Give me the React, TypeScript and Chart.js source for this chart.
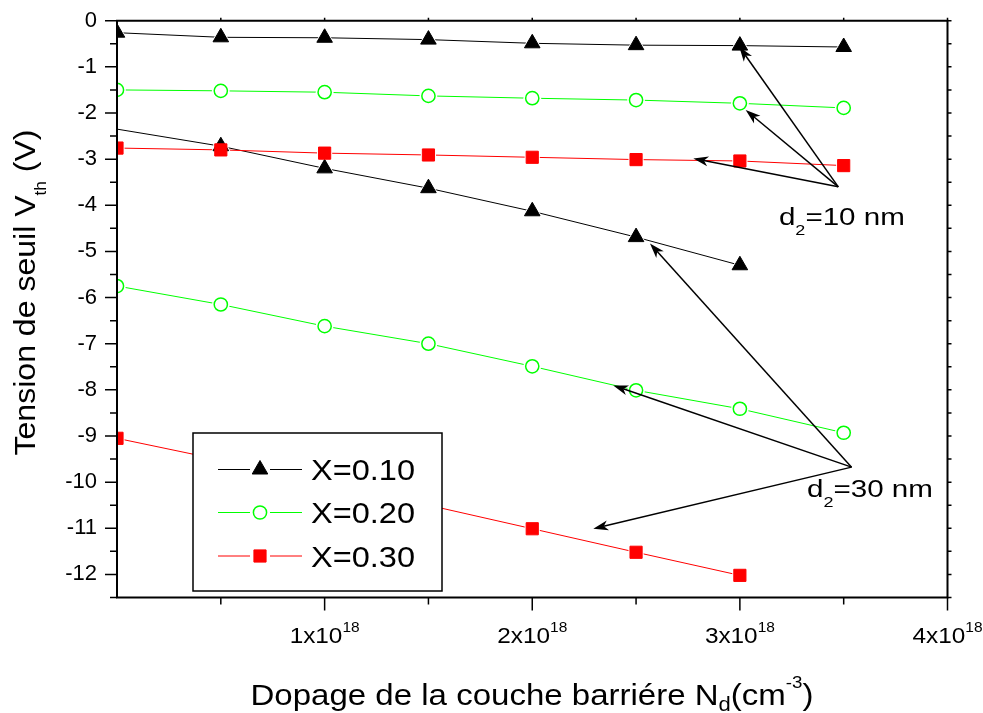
import React, { useEffect, useRef } from 'react';
import { Chart, registerables } from 'chart.js';
Chart.register(...registerables);

const FONT = "'Liberation Sans', Arial, Helvetica, sans-serif";

// Dopage de la couche barrière N_d (cm^-3)
const dopingD10 = [0, 0.5e18, 1e18, 1.5e18, 2e18, 2.5e18, 3e18, 3.5e18];
const dopingD30X010 = [0, 0.5e18, 1e18, 1.5e18, 2e18, 2.5e18, 3e18];
const dopingD30X020 = [0, 0.5e18, 1e18, 1.5e18, 2e18, 2.5e18, 3e18, 3.5e18];
const dopingD30X030 = [0, 0.5e18, 1e18, 1.5e18, 2e18, 2.5e18, 3e18];

// Tension de seuil V_th (V), d2 = 10 nm
const vthD10X010 = [-0.26, -0.36, -0.37, -0.41, -0.49, -0.53, -0.54, -0.57];
const vthD10X020 = [-1.5, -1.52, -1.55, -1.63, -1.68, -1.72, -1.79, -1.89];
const vthD10X030 = [-2.76, -2.8, -2.87, -2.91, -2.96, -3.01, -3.04, -3.14];
// d2 = 30 nm
const vthD30X010 = [-2.35, -2.72, -3.2, -3.63, -4.13, -4.69, -5.3];
const vthD30X020 = [-5.75, -6.15, -6.62, -7.0, -7.49, -8.01, -8.41, -8.93];
const vthD30X030 = [-9.05, -9.52, -10.0, -10.5, -11.01, -11.52, -12.02];

const legendLabels = ['X=0.10', 'X=0.20', 'X=0.30'];
const xTickMantissas = ['1', '2', '3', '4'];
const xTickValues = [1e18, 2e18, 3e18, 4e18];
const xTickExponent = '18';
const xMin = 0;
const xMax = 4e18;
const yMin = -12.5;
const yMax = 0;

// annotations (data coordinates)
const d10Text = ['d', '2', '=10 nm'];
const d10TextPos = [3.188e18, -4.43];
const d10Tail = [3.474e18, -3.6];
const d10Heads = [
  [2.997e18, -0.564],
  [3.028e18, -1.937],
  [2.776e18, -2.985],
];
const d30Text = ['d', '2', '=30 nm'];
const d30TextPos = [3.323e18, -10.33];
const d30Tail = [3.538e18, -9.675];
const d30Heads = [
  [2.567e18, -4.829],
  [2.39e18, -7.903],
  [2.294e18, -11.011],
];

type Style = {
  color: string;
  fill: string;
  pointStyle: 'triangle' | 'circle' | 'rect';
  radius: number;
  halo: number;
  bw: number;
};
const styleX010: Style = { color: '#000000', fill: '#000000', pointStyle: 'triangle', radius: 9, halo: 11.5, bw: 1 };
const styleX020: Style = { color: '#00ff00', fill: '#ffffff', pointStyle: 'circle', radius: 6.6, halo: 8.9, bw: 1.5 };
const styleX030: Style = { color: '#ff0000', fill: '#ff0000', pointStyle: 'rect', radius: 8.6, halo: 10.7, bw: 1 };

function buildSeries(xs: number[], ys: number[], st: Style, hideFirst: boolean) {
  const data = xs.map((x, i) => ({ x, y: ys[i] }));
  const rad = (r: number) => (c: any) => (hideFirst && c.dataIndex === 0 ? 0 : r);
  return [
    { data, showLine: true, borderColor: st.color, borderWidth: 1, pointRadius: 0, order: 3 },
    {
      data,
      showLine: false,
      pointStyle: st.pointStyle,
      pointRadius: rad(st.halo),
      pointBackgroundColor: '#ffffff',
      pointBorderColor: '#ffffff',
      pointBorderWidth: 0,
      order: 2,
    },
    {
      data,
      showLine: false,
      pointStyle: st.pointStyle,
      pointRadius: rad(st.radius),
      pointBackgroundColor: st.fill,
      pointBorderColor: st.color,
      pointBorderWidth: st.bw,
      order: 1,
    },
  ];
}

type Part = { t: string; size: number; dy: number };
function drawRich(ctx: CanvasRenderingContext2D, parts: Part[], x: number, y: number, align: 'left' | 'center', target?: number) {
  let w = 0;
  const widths = parts.map((p) => {
    ctx.font = `${p.size}px ${FONT}`;
    const m = ctx.measureText(p.t).width;
    w += m;
    return m;
  });
  const sx = target ? target / w : 1;
  ctx.save();
  ctx.translate(x, y);
  ctx.scale(sx, 1);
  ctx.textAlign = 'left';
  ctx.textBaseline = 'alphabetic';
  ctx.fillStyle = '#000000';
  let cx = align === 'center' ? -w / 2 : 0;
  parts.forEach((p, i) => {
    ctx.font = `${p.size}px ${FONT}`;
    ctx.fillText(p.t, cx, p.dy);
    cx += widths[i];
  });
  ctx.restore();
}

function drawMarker(ctx: CanvasRenderingContext2D, st: Style, x: number, y: number) {
  const r = st.radius;
  ctx.save();
  ctx.fillStyle = st.fill;
  ctx.strokeStyle = st.color;
  ctx.lineWidth = st.bw;
  ctx.beginPath();
  if (st.pointStyle === 'triangle') {
    const h = r * Math.sin(Math.PI / 3);
    ctx.moveTo(x, y - r);
    ctx.lineTo(x + h, y + r / 2);
    ctx.lineTo(x - h, y + r / 2);
    ctx.closePath();
  } else if (st.pointStyle === 'circle') {
    ctx.arc(x, y, r, 0, Math.PI * 2);
  } else {
    const s = r * Math.SQRT1_2;
    ctx.rect(x - s, y - s, 2 * s, 2 * s);
  }
  ctx.fill();
  ctx.stroke();
  ctx.restore();
}

function drawArrow(ctx: CanvasRenderingContext2D, x0: number, y0: number, x1: number, y1: number) {
  const ang = Math.atan2(y1 - y0, x1 - x0);
  const L = 15;
  const W = 5;
  const c = Math.cos(ang);
  const s = Math.sin(ang);
  ctx.save();
  ctx.strokeStyle = '#000';
  ctx.fillStyle = '#000';
  ctx.lineWidth = 1.5;
  ctx.beginPath();
  ctx.moveTo(x0, y0);
  ctx.lineTo(x1 - c * L * 0.7, y1 - s * L * 0.7);
  ctx.stroke();
  ctx.beginPath();
  ctx.moveTo(x1, y1);
  ctx.lineTo(x1 - c * L - s * W, y1 - s * L + c * W);
  ctx.lineTo(x1 - c * L * 0.72, y1 - s * L * 0.72);
  ctx.lineTo(x1 - c * L + s * W, y1 - s * L - c * W);
  ctx.closePath();
  ctx.fill();
  ctx.restore();
}

const decorPlugin = {
  id: 'decor',
  afterDatasetsDraw(chart: any) {
    const ctx: CanvasRenderingContext2D = chart.ctx;
    const xs = chart.scales.x;
    const ys = chart.scales.y;
    const { left, right, top, bottom } = chart.chartArea;
    const px = (v: number) => xs.getPixelForValue(v);
    const py = (v: number) => ys.getPixelForValue(v);

    // arrows
    const arrowSet = (tail: number[], heads: number[][]) => {
      heads.forEach((h) => drawArrow(ctx, px(tail[0]), py(tail[1]), px(h[0]), py(h[1])));
    };
    arrowSet(d10Tail, d10Heads);
    arrowSet(d30Tail, d30Heads);

    // annotation texts
    const annot = (txt: string[], pos: number[]) =>
      drawRich(
        ctx,
        [
          { t: txt[0], size: 23, dy: 0 },
          { t: txt[1], size: 14, dy: 10 },
          { t: txt[2], size: 23, dy: 0 },
        ],
        px(pos[0]),
        py(pos[1]),
        'left',
        126
      );
    annot(d10Text, d10TextPos);
    annot(d30Text, d30TextPos);

    // legend box
    const lx0 = 193, lx1 = 442, ly0 = 433, ly1 = 591;
    ctx.save();
    ctx.fillStyle = '#ffffff';
    ctx.fillRect(lx0, ly0, lx1 - lx0, ly1 - ly0);
    ctx.strokeStyle = '#000';
    ctx.lineWidth = 1.5;
    ctx.strokeRect(lx0, ly0, lx1 - lx0, ly1 - ly0);
    ctx.restore();
    const legStyles = [styleX010, styleX020, styleX030];
    const rowY = [469.5, 512.5, 556];
    legStyles.forEach((st, i) => {
      const y = rowY[i];
      ctx.save();
      ctx.strokeStyle = st.color;
      ctx.lineWidth = 1;
      ctx.beginPath();
      ctx.moveTo(218, y);
      ctx.lineTo(250, y);
      ctx.moveTo(270, y);
      ctx.lineTo(302, y);
      ctx.stroke();
      ctx.restore();
      drawMarker(ctx, st, 260, y);
      drawRich(ctx, [{ t: legendLabels[i], size: 30, dy: 0 }], 311, y + 10.8, 'left', 104);
    });

    // frame
    ctx.save();
    ctx.strokeStyle = '#000';
    ctx.lineWidth = 2;
    ctx.beginPath();
    ctx.rect(left, top, right - left, bottom - top);
    ctx.stroke();
    ctx.lineWidth = 1.5;
    ctx.beginPath();
    // y ticks
    for (let k = 0; ; k++) {
      const v = yMin + 0.5 * k;
      if (v > yMax + 1e-9) break;
      const y = py(v);
      const major = Math.abs(v - Math.round(v)) < 1e-9;
      ctx.moveTo(left, y);
      ctx.lineTo(left - (major ? 12 : 7), y);
      ctx.moveTo(right, y);
      ctx.lineTo(right + 4, y);
    }
    // x ticks
    for (let k = 1; ; k++) {
      const v = xMin + 0.5e18 * k;
      if (v > xMax + 1) break;
      const x = px(v);
      const major = k % 2 === 0;
      ctx.moveTo(x, bottom);
      ctx.lineTo(x, bottom + (major ? 13 : 7));
      ctx.moveTo(x, top);
      ctx.lineTo(x, top - 3);
    }
    ctx.stroke();
    ctx.restore();

    // x tick labels
    xTickValues.forEach((v, i) => {
      drawRich(
        ctx,
        [
          { t: `${xTickMantissas[i]}x10`, size: 22, dy: 0 },
          { t: xTickExponent, size: 14, dy: -11.5 },
        ],
        px(v),
        643,
        'center',
        70
      );
    });

    // x title
    drawRich(
      ctx,
      [
        { t: 'Dopage de la couche barriére N', size: 30, dy: 0 },
        { t: 'd', size: 20, dy: 6 },
        { t: '(cm', size: 30, dy: 0 },
        { t: '-3', size: 17, dy: -17 },
        { t: ')', size: 30, dy: 0 },
      ],
      532,
      705,
      'center',
      563
    );

    // y title
    ctx.save();
    ctx.translate(35, 292.5);
    ctx.rotate(-Math.PI / 2);
    drawRich(
      ctx,
      [
        { t: 'Tension de seuil V', size: 30, dy: 0 },
        { t: 'th', size: 16, dy: 11 },
        { t: ' (V)', size: 30, dy: 0 },
      ],
      0,
      0,
      'center',
      326
    );
    ctx.restore();
  },
};

export default function App() {
  const ref = useRef<HTMLCanvasElement | null>(null);
  useEffect(() => {
    if (!ref.current) return;
    const datasets = [
      ...buildSeries(dopingD10, vthD10X010, styleX010, false),
      ...buildSeries(dopingD10, vthD10X020, styleX020, false),
      ...buildSeries(dopingD10, vthD10X030, styleX030, false),
      ...buildSeries(dopingD30X010, vthD30X010, styleX010, true),
      ...buildSeries(dopingD30X020, vthD30X020, styleX020, false),
      ...buildSeries(dopingD30X030, vthD30X030, styleX030, false),
    ];
    const chart = new Chart(ref.current, {
      type: 'scatter',
      data: { datasets: datasets as any },
      options: {
        responsive: false,
        animation: false,
        devicePixelRatio: 1,
        layout: { padding: { top: 20.7, right: 35.5, left: 0, bottom: 0 } },
        plugins: { legend: { display: false }, tooltip: { enabled: false } },
        scales: {
          x: {
            type: 'linear',
            min: xMin,
            max: xMax,
            ticks: { display: false },
            grid: { display: false, drawTicks: false },
            border: { display: false },
            afterFit: (s: any) => {
              s.height = 115.5;
              s.paddingLeft = 0;
              s.paddingRight = 0;
            },
          },
          y: {
            type: 'linear',
            min: yMin,
            max: yMax,
            ticks: {
              stepSize: 0.5,
              autoSkip: false,
              padding: 20,
              color: '#000000',
              font: { family: FONT, size: 22 },
              callback: (v: any) => (Math.abs(v - Math.round(v)) < 1e-9 ? String(Math.round(v)) : ''),
            },
            grid: { display: false, drawTicks: false },
            border: { display: false },
            afterFit: (s: any) => {
              s.width = 117;
              s.paddingTop = 0;
              s.paddingBottom = 0;
            },
          },
        },
      },
      plugins: [decorPlugin],
    });
    return () => chart.destroy();
  }, []);
  return (
    <div style={{ position: 'absolute', left: 0, top: 0, width: 983, height: 713, background: '#fff' }}>
      <canvas ref={ref} width={983} height={713} style={{ width: 983, height: 713, display: 'block' }} />
    </div>
  );
}
